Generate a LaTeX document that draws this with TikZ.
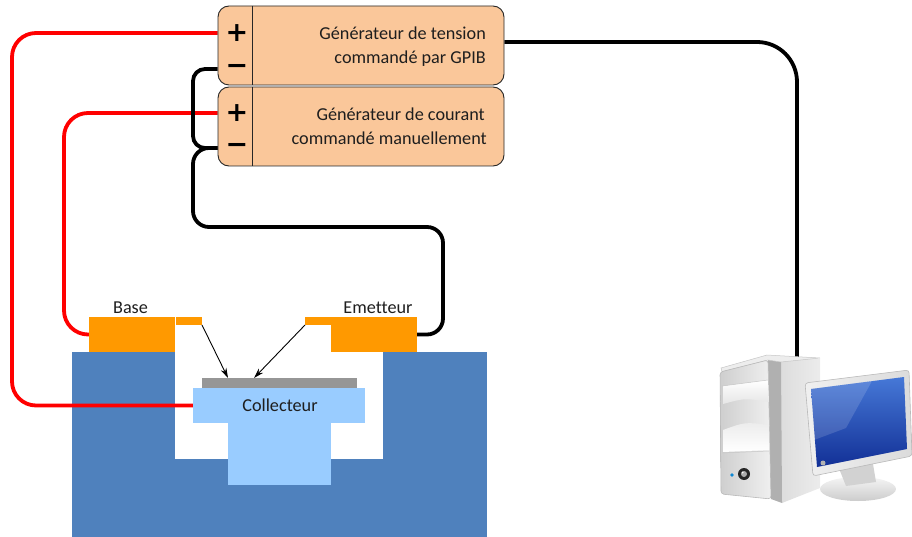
\documentclass[tikz,border=0pt]{standalone}
\usepackage{fontspec}
\setmainfont{Carlito}[Ligatures=NoCommon]
\newfontfamily\signfont{DejaVu Sans}
\usetikzlibrary{arrows.meta}

\definecolor{genfill}{RGB}{250,199,154}
\definecolor{padorange}{RGB}{255,153,0}
\definecolor{substrate}{RGB}{79,129,189}
\definecolor{collblue}{RGB}{153,204,255}
\definecolor{oxide}{RGB}{150,150,150}
\definecolor{wirered}{RGB}{255,0,0}
\definecolor{txt}{RGB}{30,30,30}
\definecolor{screentop}{RGB}{70,120,215}
\definecolor{screenbot}{RGB}{18,48,150}

\pgfdeclarelayer{background}
\pgfdeclarelayer{wires}
\pgfsetlayers{background,wires,main}

\tikzset{
  genbox/.style={draw=black!85, line width=0.9pt, fill=genfill, rounded corners=11pt,
    minimum width=286pt, minimum height=79pt, inner sep=0pt},
  gentext/.style={font=\fontsize{18.2}{21}\selectfont, anchor=base east, text=txt, inner sep=0pt},
  sign/.style={font=\signfont\bfseries\fontsize{27}{27}\selectfont, inner sep=0pt, text=black},
  slab/.style={rectangle, inner sep=0pt, outer sep=0pt, draw=none, anchor=north west},
  partlabel/.style={font=\fontsize{18.2}{21}\selectfont, anchor=base, text=txt, inner sep=0pt},
  redwire/.style={draw=wirered, line width=3.8pt, rounded corners=24pt},
  blackwire/.style={draw=black, line width=3.8pt},
  pointer/.style={draw=black, line width=0.9pt, -{Stealth[length=10pt,width=6pt]}},
}

\begin{document}
\begin{tikzpicture}[x=1pt, y=-1pt]
\useasboundingbox (0,0) rectangle (912,537);

% ---------- generators ----------
\node[genbox] (gen1) at (361,45.5) {};
\node[genbox] (gen2) at (361,126.5) {};
\draw[black!85, line width=0.9pt] ([xshift=35pt]gen1.north west) -- ([xshift=35pt]gen1.south west);
\draw[black!85, line width=0.9pt] ([xshift=35pt]gen2.north west) -- ([xshift=35pt]gen2.south west);
\node[sign] (plus1)  at (237,33)  {+};
\node[sign] (minus1) at (237,69)  {\char"2212};
\node[sign] (plus2)  at (237,113) {+};
\node[sign] (minus2) at (237,148) {\char"2212};
\node[gentext] (gen1a) at (486,40)  {Générateur de tension};
\node[gentext] (gen1b) at (486,64)  {commandé par GPIB};
\node[gentext] (gen2a) at (485,121) {Générateur de courant};
\node[gentext] (gen2b) at (487,145) {commandé manuellement};

% ---------- transistor cross-section ----------
\begin{pgfonlayer}{background}
\fill[substrate] (72,352) rectangle (487,537);
\fill[white] (175,352) rectangle (383,459);
\end{pgfonlayer}
\node[slab, fill=padorange, minimum width=86pt, minimum height=35pt] (base) at (89,317) {};
\node[slab, fill=padorange, minimum width=26pt, minimum height=8pt] (bstrip) at (176,317) {};
\node[slab, fill=padorange, minimum width=86pt, minimum height=35pt] (emit) at (331,317) {};
\node[slab, fill=padorange, minimum width=26pt, minimum height=8pt] (estrip) at (305,317) {};
\node[slab, fill=collblue, minimum width=103pt, minimum height=62pt] (collbody) at (228,423) {};
\node[slab, fill=collblue, minimum width=172pt, minimum height=35pt] (colltop) at (193,388) {};
\node[slab, fill=oxide, minimum width=155pt, minimum height=10pt] (gbar) at (202,378) {};
\node[partlabel] (baselbl) at (130.5,313) {Base};
\node[partlabel] (emitlbl) at (378,313) {Emetteur};
\node[partlabel] (colllbl) at (280,411) {Collecteur};
\draw[pointer] (bstrip.south east) -- ([xshift=26pt]gbar.north west);
\draw[pointer] (estrip.south west) -- ([xshift=52pt]gbar.north west);

% ---------- computer ----------
\coordinate (pc) at (797,357);
% tower side, edge, top, front
\shade[left color=gray!30, right color=gray!15] (770,357) -- (820,359) -- (820,488) -- (782,503) -- cycle;
\fill[gray!62] (768,360) -- (781,362) -- (782,503) -- (771,499) -- cycle;
\fill[gray!14, draw=gray!45, line width=0.5pt] (721,368) -- (767,355) -- (820,358) -- (781,362) -- (768,360) -- (722,372) -- cycle;
\shade[left color=gray!38, right color=gray!12, draw=gray!55, line width=0.6pt, rounded corners=3pt]
  (720,372) -- (768,360) -- (771,499) -- (721,494) -- cycle;
\shade[top color=white, bottom color=gray!20] (723,386) .. controls (745,383) .. (768,380) -- (769,402) .. controls (745,398) .. (723,404) -- cycle;
\shade[top color=gray!15, bottom color=white] (723,430) .. controls (745,422) .. (769,425) -- (769,450) -- (723,452) -- cycle;
\draw[gray!45, line width=0.5pt] (722,386) .. controls (745,383) .. (768,380);
\draw[gray!45, line width=0.5pt] (722,453) -- (769,451);
\fill[black!85] (744,474) circle (6pt);
\fill[gray!65] (744,474) circle (3pt);
\fill[white] (742.5,472.5) circle (1pt);
\fill[cyan!70!blue] (732,475) circle (1.8pt);
% monitor stand
\shade[top color=gray!8, bottom color=gray!40] (858,489) ellipse (38pt and 12pt);
\fill[gray!35] (838,466) -- (872,458) -- (876,482) -- (846,486) -- cycle;
% monitor frame and screen
\shade[left color=gray!12, right color=gray!28, draw=gray!55, line width=0.6pt, rounded corners=3pt]
  (805,383) -- (909,370) -- (912,456) -- (813,476) -- cycle;
\shade[top color=screentop, bottom color=screenbot] (811,389) -- (904,377) -- (907,449) -- (817,467) -- cycle;
\fill[white, opacity=0.14] (811,389) -- (872,381) -- (846,428) -- (814,440) -- cycle;
\fill[gray!60] (823,463) circle (2.5pt);

% ---------- wires ----------
\coordinate (railA) at (12,0);
\coordinate (railB) at (64,0);
\coordinate (railC) at (193,0);
\coordinate (railD) at (443,0);
\coordinate (loopbot) at (0,227);
\begin{pgfonlayer}{wires}
\draw[redwire] (gen1.west |- plus1) -- (railA |- plus1) -- (railA |- colltop.west) -- (colltop.west);
\draw[redwire] (gen2.west |- plus2) -- (railB |- plus2) -- (railB |- base.west) -- (base.west);
\draw[blackwire, rounded corners=12pt] (gen1.west |- minus1) -- (railC |- minus1) -- (railC |- minus2) -- (gen2.west |- minus2);
\draw[blackwire, rounded corners=16pt] (gen2.west |- minus2) -- (railC |- minus2) -- (railC |- loopbot) -- (railD |- loopbot) -- (railD |- emit.east) -- (emit.east);
\draw[blackwire, rounded corners=40pt] ([yshift=3.5pt]gen1.east) -| (pc);
\end{pgfonlayer}
\end{tikzpicture}
\end{document}
